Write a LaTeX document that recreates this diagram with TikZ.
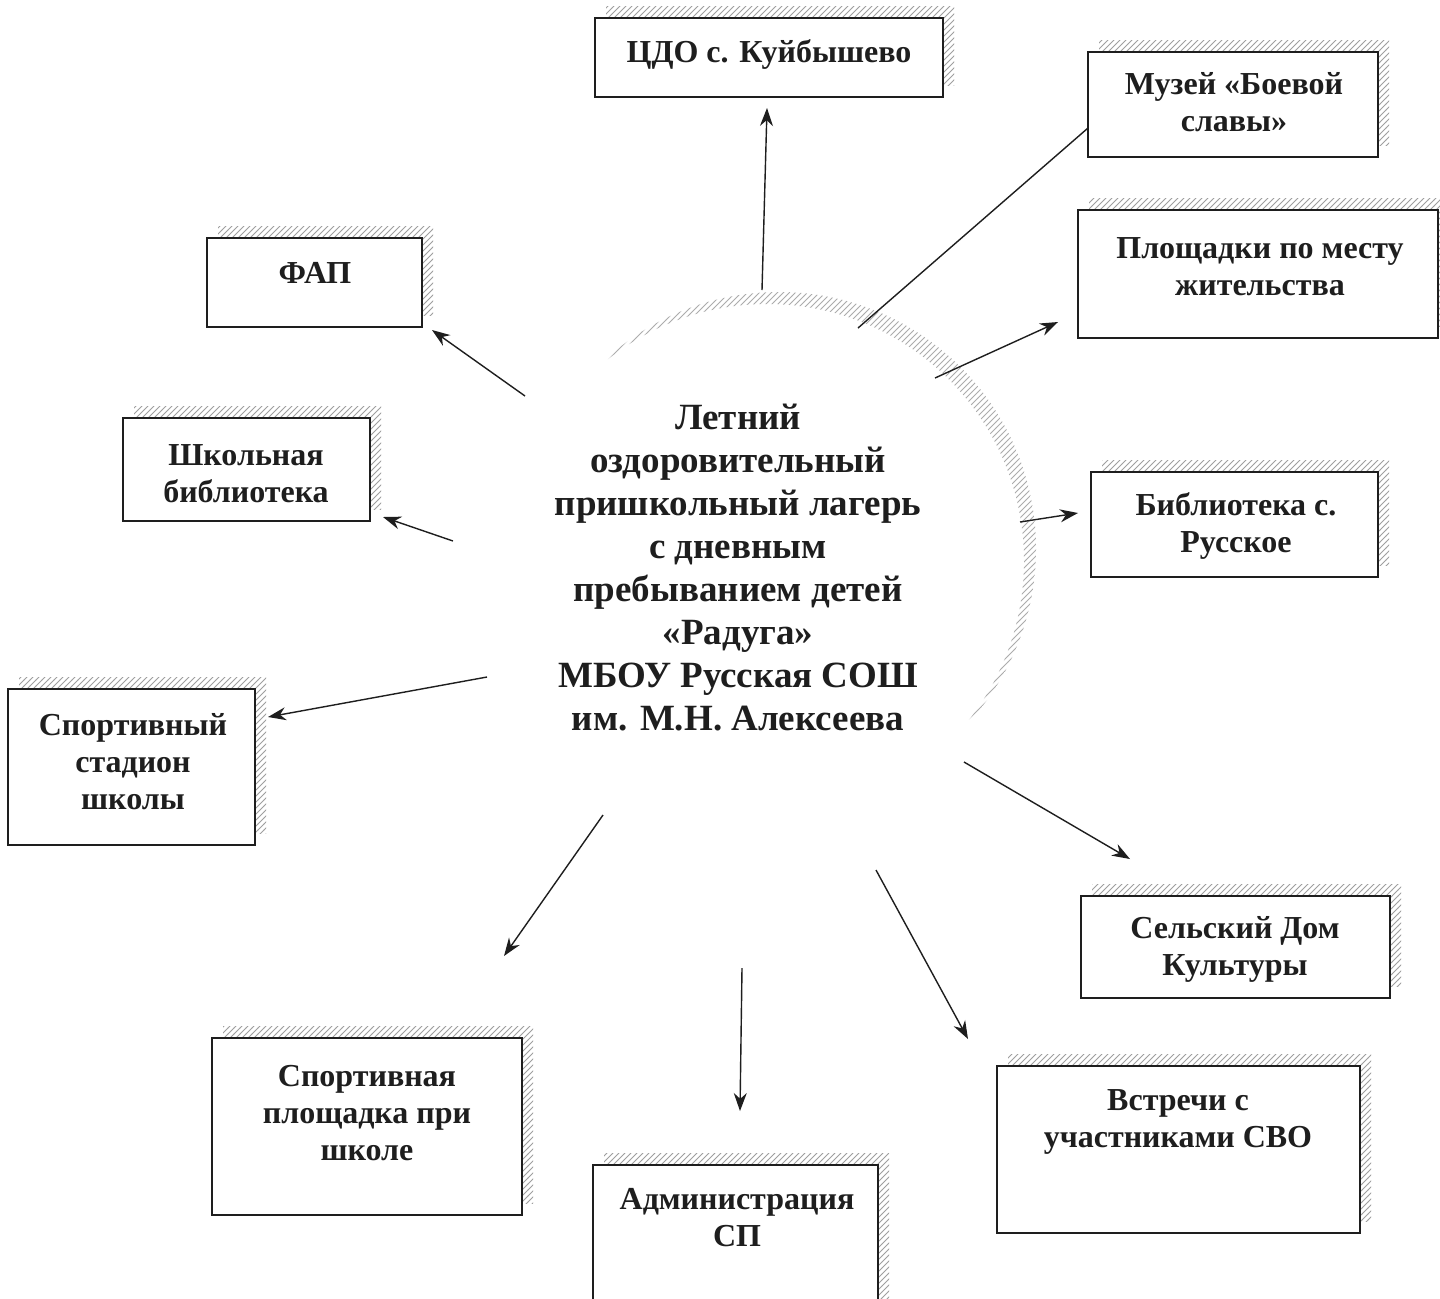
\documentclass[tikz,border=0pt]{standalone}
\usepackage{fontspec}
\setmainfont{Liberation Serif}
\usetikzlibrary{patterns,arrows.meta}
\definecolor{ink}{HTML}{1E1E1E}
\tikzset{
  boxnode/.style={draw=ink, line width=0.9pt, fill=white, inner sep=0pt},
  shadowfill/.style={pattern=north east lines, pattern color=gray!75},
  boxtext/.style={font=\fontsize{16}{18.5}\selectfont\bfseries, text=ink, align=center, inner sep=0pt},
  conn/.style={draw=ink, line width=0.7pt},
  arr/.style={conn, -{Stealth[length=9pt,width=6.5pt]}}
}
\newcommand{\shbox}[5]{% name, x1, y1, x2, y2
  \fill[shadowfill] (#2+11,#3-12) rectangle (#4+11,#5-12);
  \node[boxnode, minimum width={(#4-#2)*0.5pt}, minimum height={(#5-#3)*0.5pt}] (#1) at ({(#2+#4)/2},{(#3+#5)/2}) {};
}
\begin{document}
\begin{tikzpicture}[x=0.5pt,y=-0.5pt]
\useasboundingbox (0,0) rectangle (1440,1298);
\fill[white] (0,0) rectangle (1440,1298);

% central crescent shadow
\begin{scope}
  \clip (779,549) circle[radius=257];
  \fill[shadowfill, pattern color=gray!65, even odd rule] (400,180) rectangle (1150,920) (767,561) circle[radius=257];
\end{scope}
\node[font=\fontsize{18.5}{21.5}\selectfont\bfseries, text=ink, align=center, inner sep=0pt] (camp) at (738,568)
 {Летний\\оздоровительный\\пришкольный лагерь\\с дневным\\пребыванием детей\\«Радуга»\\МБОУ Русская СОШ\\им. М.Н. Алексеева};

% boxes
\shbox{cdo}{595}{18}{943}{97}
\shbox{muz}{1088}{52}{1378}{157}
\shbox{plo}{1078}{210}{1438}{338}
\shbox{fap}{207}{238}{422}{327}
\shbox{shb}{123}{418}{370}{521}
\shbox{bib}{1091}{472}{1378}{577}
\shbox{sta}{8}{689}{255}{845}
\shbox{sdk}{1081}{896}{1390}{998}
\shbox{spl}{212}{1038}{522}{1215}
\shbox{svo}{997}{1066}{1360}{1233}
\shbox{adm}{593}{1165}{878}{1320}

% box texts
\node[boxtext] (tcdo) at (769,54) {ЦДО с. Куйбышево};
\node[boxtext] (tmuz) at (1234,102) {Музей «Боевой\\славы»};
\node[boxtext] (tplo) at (1260,267) {Площадки по месту\\жительства};
\node[boxtext] (tfap) at (315,273) {ФАП};
\node[boxtext] (tshb) at (246,474) {Школьная\\библиотека};
\node[boxtext] (tbib) at (1236,526) {Библиотека с.\\Русское};
\node[boxtext] (tsta) at (133,762) {Спортивный\\стадион\\школы};
\node[boxtext] (tsdk) at (1235,949) {Сельский Дом\\Культуры};
\node[boxtext] (tspl) at (367,1113) {Спортивная\\площадка при\\школе};
\node[boxtext] (tsvo) at (1178,1122) {Встречи с\\участниками СВО};
\node[boxtext] (tadm) at (737,1218) {Администрация\\СП};

% connector end points
\coordinate (s1) at (762,290);  \coordinate (e1) at (767,108);
\coordinate (s2) at (858,328);  \coordinate (e2) at (1088,128);
\coordinate (s3) at (935,378);  \coordinate (e3) at (1058,322);
\coordinate (s4) at (525,396);  \coordinate (e4) at (432,330);
\coordinate (s5) at (453,541);  \coordinate (e5) at (383,517);
\coordinate (s6) at (1020,522); \coordinate (e6) at (1078,513);
\coordinate (s7) at (487,677);  \coordinate (e7) at (268,717);
\coordinate (s8) at (964,762);  \coordinate (e8) at (1130,859);
\coordinate (s9) at (603,815);  \coordinate (e9) at (504,956);
\coordinate (s10) at (742,968); \coordinate (e10) at (740,1111);
\coordinate (s11) at (876,870); \coordinate (e11) at (968,1039);

\draw[arr] (s1) -- (e1);
\draw[conn] (s2) -- (e2);
\draw[arr] (s3) -- (e3);
\draw[arr] (s4) -- (e4);
\draw[arr] (s5) -- (e5);
\draw[arr] (s6) -- (e6);
\draw[arr] (s7) -- (e7);
\draw[arr] (s8) -- (e8);
\draw[arr] (s9) -- (e9);
\draw[arr] (s10) -- (e10);
\draw[arr] (s11) -- (e11);
\end{tikzpicture}
\end{document}
